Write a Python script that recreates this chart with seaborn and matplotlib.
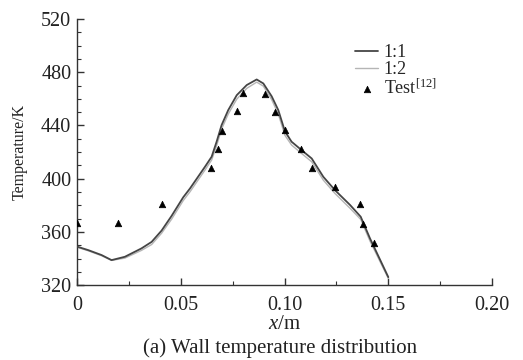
import matplotlib
matplotlib.use("Agg")
import matplotlib.pyplot as plt
import seaborn as sns
import pandas as pd
from matplotlib.ticker import MultipleLocator

# ---- data ----
x_11 = [0.0, 0.0055, 0.0119, 0.0167, 0.0231, 0.0311, 0.036, 0.0408, 0.0456, 0.0512,
        0.0545, 0.0617, 0.0649, 0.0673, 0.0697, 0.0729, 0.077, 0.0818, 0.0866, 0.0898,
        0.0938, 0.097, 0.1002, 0.1034, 0.1082, 0.1131, 0.1187, 0.1243, 0.1316, 0.1367,
        0.1412, 0.150]
t_11 = [349.0, 346.3, 342.6, 338.8, 341.3, 347.6, 352.5, 361.0, 372.0, 386.0,
        392.7, 409.0, 416.5, 427.8, 440.3, 451.6, 462.8, 470.4, 474.6, 471.6,
        462.0, 451.6, 435.6, 427.8, 421.5, 415.2, 401.4, 391.4, 380.2, 371.4,
        355.0, 326.0]

x_12 = x_11
t_12 = [348.5, 345.8, 342.1, 338.6, 340.3, 346.1, 350.5, 359.0, 369.5, 383.5,
        390.2, 406.5, 414.0, 424.8, 437.3, 448.6, 459.8, 467.9, 472.6, 469.6,
        459.5, 448.6, 432.6, 425.3, 419.0, 412.7, 398.9, 388.9, 377.7, 369.4,
        353.0, 325.0]

x_test = [0.0, 0.0198, 0.041, 0.0644, 0.0678, 0.070, 0.077, 0.0798, 0.0908, 0.0956,
          0.1002, 0.108, 0.1133, 0.1243, 0.1364, 0.1377, 0.143]
t_test = [366.6, 367.0, 381.0, 408.2, 422.5, 435.8, 450.8, 464.6, 463.6, 450.0,
          436.5, 422.0, 408.0, 393.9, 380.7, 365.9, 351.8]

x_ticks = [0, 0.05, 0.10, 0.15, 0.20]
x_tick_labels = ["0", "0.05", "0.10", "0.15", "0.20"]
y_ticks = [320, 360, 400, 440, 480, 520]

sns.set_style("ticks")
plt.rcParams['font.family'] = ['Liberation Serif', 'DejaVu Serif']
plt.rcParams['mathtext.fontset'] = 'custom'
plt.rcParams['mathtext.it'] = 'Liberation Serif:italic'
plt.rcParams['mathtext.rm'] = 'Liberation Serif'

fig = plt.figure(figsize=(5.23, 3.6), dpi=100)
ax = fig.add_axes([0.147, 0.208, 0.794, 0.739])

df11 = pd.DataFrame({"x": x_11, "T": t_11})
df12 = pd.DataFrame({"x": x_12, "T": t_12})
dft = pd.DataFrame({"x": x_test, "T": t_test})

sns.lineplot(data=df12, x="x", y="T", ax=ax, color="#b5b5b5", linewidth=1.0,
             label="1:2", sort=False, zorder=2)
sns.lineplot(data=df11, x="x", y="T", ax=ax, color="#454545", linewidth=1.3,
             label="1:1", sort=False, zorder=3)
sns.scatterplot(data=dft, x="x", y="T", ax=ax, marker="^", color="black", s=22,
                edgecolor="black", linewidth=0.5, label="Test$^{[12]}$", zorder=4)

ax.set_xlim(0, 0.20)
ax.set_ylim(320, 520)
ax.set_xticks(x_ticks)
ax.set_xticklabels(x_tick_labels)
ax.set_yticks(y_ticks)
ax.xaxis.set_minor_locator(MultipleLocator(0.025))
ax.yaxis.set_minor_locator(MultipleLocator(10))
ax.tick_params(axis="both", which="major", direction="in", length=5, width=1,
               labelsize=14.5, color="#333333", labelcolor="#222222")
ax.tick_params(axis="x", which="major", pad=8)
ax.tick_params(axis="y", which="major", pad=4)
ax.tick_params(axis="both", which="minor", direction="in", length=3, width=0.8,
               color="#333333")
for s in ["top", "right"]:
    ax.spines[s].set_visible(False)
for s in ["left", "bottom"]:
    ax.spines[s].set_color("#333333")
    ax.spines[s].set_linewidth(1.0)

ax.set_ylabel("Temperature/K", fontsize=11.5, color="#222222", va="center")
ax.yaxis.set_label_coords(-0.137, 0.5)
ax.set_xlabel("$\\it{x}$/m", fontsize=15, color="#222222", va="center")
ax.xaxis.set_label_coords(0.501, -0.148)

handles, labels = ax.get_legend_handles_labels()
order = [labels.index("1:1"), labels.index("1:2"), labels.index("Test$^{[12]}$")]
leg = ax.legend([handles[i] for i in order], [labels[i] for i in order],
                loc="upper left", bbox_to_anchor=(0.652, 0.932), frameon=False,
                fontsize=13, handlelength=1.3, handletextpad=0.3,
                labelspacing=0.0, borderaxespad=0)

fig.text(0.535, 1 - 348 / 360, "(a) Wall temperature distribution", ha="center",
         va="center", fontsize=15, color="#222222")

fig.savefig("out.png", dpi=100)
